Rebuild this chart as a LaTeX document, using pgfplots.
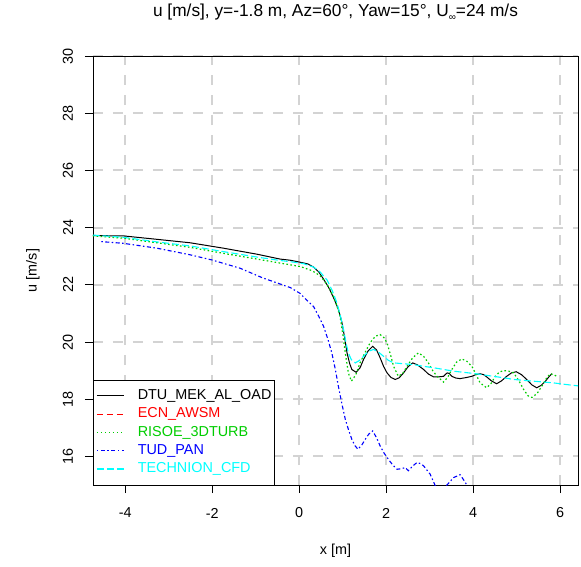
\documentclass[border=0pt]{standalone}
\usepackage{fontspec}
\setmainfont{Liberation Sans}
\usepackage{pgfplots}
\pgfplotsset{compat=1.18}
\definecolor{rgreen}{HTML}{00CD00}
\definecolor{rcyan}{HTML}{00FFFF}
\definecolor{rblue}{HTML}{0000FF}
\definecolor{rred}{HTML}{FF0000}
\definecolor{gridgray}{HTML}{D3D3D3}
\begin{document}
\begin{tikzpicture}[font=\fontsize{14.4}{17}\selectfont]
\useasboundingbox (-93pt,-81pt) rectangle (488pt,485pt);
\begin{axis}[
 at={(0pt,0pt)}, anchor=south west,
 scale only axis, width=485pt, height=429pt,
 xmin=-4.74, xmax=6.41, ymin=15, ymax=30,
 xtick={-4,-2,...,6}, ytick={16,18,...,30},
 xtick pos=bottom, ytick pos=left,
 tick align=outside, major tick length=8pt,
 tick style={black, line width=0.8pt},
 axis line style={black, line width=0.8pt},
 grid=major,
 major grid style={gridgray, line width=2pt, dash pattern=on 10pt off 10pt},
 /pgf/number format/assume math mode=true,
 xticklabel style={anchor=center, yshift=-20pt},
 yticklabel style={xshift=-17pt, rotate=90, anchor=center},
 title={u [m/s], y=-1.8 m, Az=60°, Yaw=15°, U\raisebox{-0.4ex}{\fontsize{10}{10}\selectfont ∞}=24 m/s},
 title style={at={(axis description cs:0.5,1)}, anchor=center, yshift=38pt, font=\fontsize{17.3}{20}\selectfont},
 xlabel={x [m]},
 xlabel style={at={(axis description cs:0.5,0)}, anchor=center, yshift=-66pt},
 ylabel={u [m/s]},
 ylabel style={at={(axis description cs:-0.1237,0.5)}, anchor=center},
 legend cell align=left,
 legend image code/.code={\draw[#1, line width=1.2pt] (0pt,0pt) -- (27pt,0pt); \path[draw=none] (0pt,0pt) -- (41pt,0pt);},
 legend style={at={(axis description cs:0,0)}, anchor=south west, fill=white,
   inner xsep=3pt, inner ysep=9pt, row sep=4.8pt,
   nodes={inner sep=0pt, text height=10.5pt, text depth=3pt, anchor=west}},
]
\addplot[color=black, line width=1pt] coordinates {
(-4.75,23.72) (-4.04,23.71) (-3.27,23.59) (-2.51,23.47) (-1.74,23.28) (-0.97,23.07)
(-0.44,22.90) (-0.21,22.86) (0.02,22.79) (0.20,22.73) (0.33,22.62) (0.45,22.45)
(0.56,22.20) (0.68,21.90) (0.79,21.55) (0.90,21.15) (0.98,20.70) (1.04,20.20)
(1.10,19.62) (1.16,19.25) (1.21,19.04) (1.31,18.94) (1.40,19.10) (1.48,19.39)
(1.58,19.68) (1.69,19.85) (1.78,19.72) (1.86,19.45) (1.94,19.15) (2.02,18.92)
(2.11,18.76) (2.21,18.69) (2.30,18.75) (2.40,18.92) (2.50,19.13) (2.61,19.27)
(2.72,19.20) (2.86,19.04) (2.97,18.88) (3.09,18.78) (3.20,18.78) (3.32,18.80)
(3.40,18.92) (3.45,18.90) (3.51,18.80) (3.60,18.74) (3.70,18.72) (3.85,18.76)
(3.97,18.80) (4.06,18.86) (4.16,18.89) (4.24,18.86) (4.31,18.78) (4.42,18.64)
(4.54,18.54) (4.65,18.64) (4.77,18.80) (4.88,18.92) (4.99,18.96) (5.11,18.86)
(5.23,18.69) (5.35,18.50) (5.46,18.40) (5.56,18.48) (5.66,18.63) (5.74,18.78)
(5.81,18.89)
};
\addlegendentry{DTU\_MEK\_AL\_OAD}
\addlegendimage{color=rred, line width=1pt, dash pattern=on 6pt off 4pt}
\addlegendentry{\textcolor{rred}{ECN\_AWSM}}
\addplot[color=rgreen, line width=1.2pt, dash pattern=on 1.6pt off 2.4pt] coordinates {
(-4.75,23.71) (-4.04,23.63) (-3.27,23.47) (-2.51,23.31) (-1.74,23.10) (-0.97,22.90)
(-0.44,22.76) (-0.21,22.70) (0.02,22.64) (0.25,22.52) (0.33,22.46) (0.48,22.32)
(0.56,22.17) (0.68,21.92) (0.79,21.59) (0.87,21.25) (0.94,20.90) (1.00,20.30)
(1.06,19.62) (1.13,18.92) (1.20,18.63) (1.30,18.85) (1.40,19.27) (1.52,19.65)
(1.63,19.97) (1.75,20.20) (1.86,20.26) (1.95,20.15) (2.02,19.97) (2.10,19.55)
(2.17,19.15) (2.28,18.80) (2.38,18.90) (2.48,19.15) (2.61,19.45) (2.74,19.62)
(2.86,19.50) (2.97,19.27) (3.07,19.00) (3.17,18.80) (3.32,18.60) (3.42,18.78)
(3.51,19.04) (3.62,19.30) (3.74,19.41) (3.86,19.32) (3.97,19.15) (4.07,18.85)
(4.16,18.57) (4.31,18.40) (4.41,18.55) (4.51,18.80) (4.60,18.95) (4.70,19.00)
(4.82,18.98) (4.93,18.92) (5.05,18.65) (5.16,18.34) (5.26,18.12) (5.35,18.06)
(5.47,18.20) (5.58,18.46) (5.68,18.72) (5.77,18.89) (5.85,18.86) (5.92,18.80)
};
\addlegendentry{\textcolor{rgreen}{RISOE\_3DTURB}}
\addplot[color=rblue, line width=1.1pt, dash pattern=on 1.5pt off 2.5pt on 4pt off 2.5pt] coordinates {
(-4.55,23.51) (-4.04,23.45) (-3.27,23.28) (-2.51,23.05) (-2.01,22.87) (-1.36,22.58)
(-0.82,22.23) (-0.44,22.03) (-0.20,21.90) (0.02,21.70) (0.15,21.50) (0.33,21.24)
(0.45,20.90) (0.56,20.55) (0.66,20.10) (0.75,19.62) (0.83,19.05) (0.90,18.46)
(0.98,17.85) (1.06,17.30) (1.14,16.90) (1.21,16.60) (1.28,16.38) (1.35,16.25)
(1.44,16.40) (1.52,16.60) (1.60,16.78) (1.69,16.89) (1.78,16.65) (1.86,16.37)
(1.95,16.12) (2.05,15.90) (2.15,15.70) (2.25,15.55) (2.35,15.57) (2.44,15.61)
(2.51,15.50) (2.60,15.65) (2.71,15.79) (2.80,15.74) (2.86,15.67) (3.01,15.38)
(3.13,14.97) (3.25,14.75) (3.38,14.97) (3.55,15.26) (3.70,15.36) (3.82,15.09)
(3.95,14.70) (4.20,14.50)
};
\addlegendentry{\textcolor{rblue}{TUD\_PAN}}
\addplot[color=rcyan, line width=1.1pt, dash pattern=on 7pt off 3pt] coordinates {
(-4.75,23.74) (-4.04,23.66) (-3.27,23.50) (-2.51,23.36) (-1.74,23.16) (-0.97,22.97)
(-0.44,22.85) (-0.21,22.81) (0.10,22.74) (0.33,22.62) (0.48,22.45) (0.64,22.17)
(0.76,21.80) (0.87,21.36) (0.95,20.90) (1.02,20.43) (1.08,19.95) (1.13,19.62)
(1.20,19.38) (1.29,19.27) (1.38,19.35) (1.48,19.50) (1.60,19.68) (1.71,19.74)
(1.82,19.65) (1.94,19.50) (2.05,19.36) (2.17,19.27) (2.40,19.24) (2.63,19.21)
(2.86,19.15) (3.09,19.10) (3.32,19.04) (3.55,18.98) (3.78,18.94) (4.01,18.90)
(4.24,18.85) (4.47,18.80) (4.70,18.75) (4.93,18.69) (5.16,18.66) (5.39,18.63)
(5.62,18.60) (5.85,18.57) (6.10,18.52) (6.45,18.46)
};
\addlegendentry{\textcolor{rcyan}{TECHNION\_CFD}}
\end{axis}
\end{tikzpicture}
\end{document}
